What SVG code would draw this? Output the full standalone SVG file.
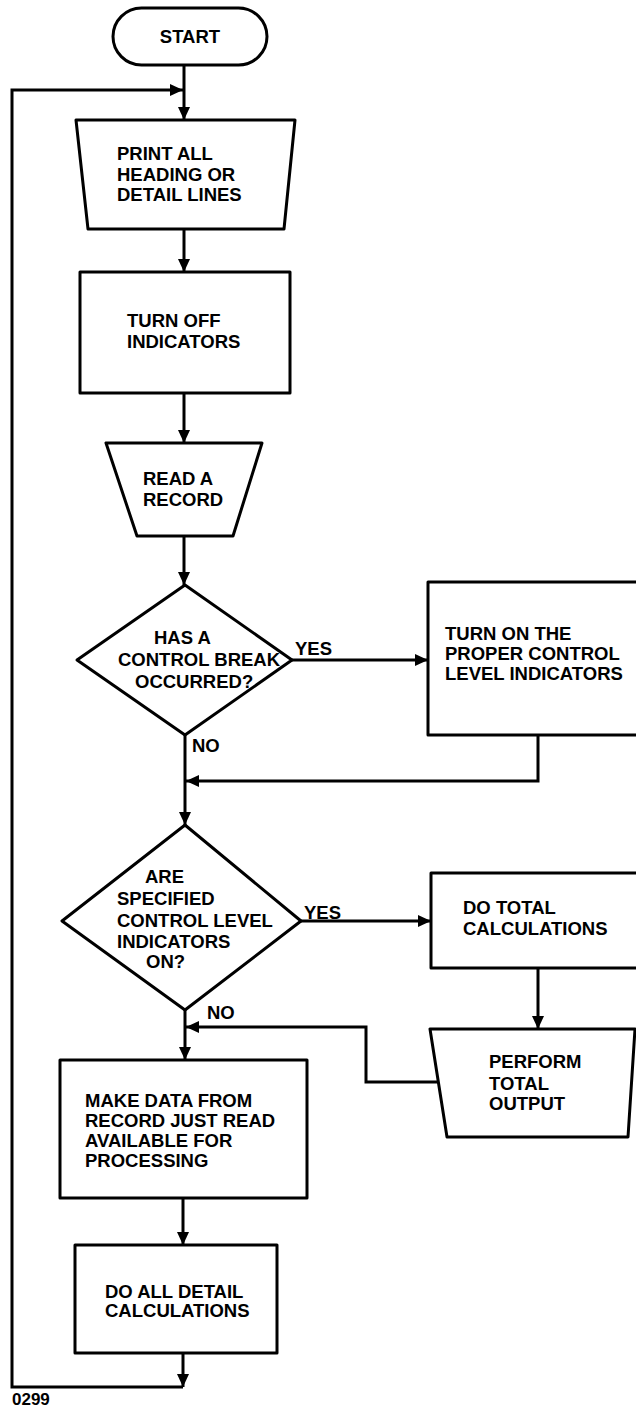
<svg xmlns="http://www.w3.org/2000/svg" width="636" height="1410" viewBox="0 0 636 1410">
<style>
.s{fill:#fff;stroke:#000;stroke-width:3;stroke-linejoin:round}
.c{fill:none;stroke:#000;stroke-width:3}
.t{font-family:"Liberation Sans",Arial,sans-serif;font-weight:bold;font-size:18.5px;fill:#000}
</style>
<defs>
<marker id="a" markerUnits="userSpaceOnUse" markerWidth="13" markerHeight="12" refX="13" refY="6" orient="auto">
<path d="M0,0 L13,6 L0,12 z" fill="#000"/>
</marker>
</defs>
<rect width="636" height="1410" fill="#fff"/>
<g id="connectors">
<path class="c" d="M184,65 V120" marker-end="url(#a)"/>
<path class="c" d="M183,1387 H12 V90 H183" marker-end="url(#a)"/>
<path class="c" d="M183,1354 V1387" marker-end="url(#a)"/>
<path class="c" d="M184,229 V272" marker-end="url(#a)"/>
<path class="c" d="M184,393 V443" marker-end="url(#a)"/>
<path class="c" d="M184,536 V585" marker-end="url(#a)"/>
<path class="c" d="M292,660 H428" marker-end="url(#a)"/>
<path class="c" d="M538,735 V781 H186" marker-end="url(#a)"/>
<path class="c" d="M185,735 V825" marker-end="url(#a)"/>
<path class="c" d="M301,921 H431" marker-end="url(#a)"/>
<path class="c" d="M538,968 V1029" marker-end="url(#a)"/>
<path class="c" d="M438,1082 H366 V1027 H186" marker-end="url(#a)"/>
<path class="c" d="M185,1010 V1060" marker-end="url(#a)"/>
<path class="c" d="M183,1198 V1245" marker-end="url(#a)"/>
<text class="t" x="295" y="655">YES</text>
<text class="t" x="192" y="752">NO</text>
<text class="t" x="304" y="919">YES</text>
<text class="t" x="207" y="1019">NO</text>
</g>
<g id="start">
<rect class="s" x="113" y="8" width="154" height="57" rx="28.5"/>
<text class="t" x="190" y="43" text-anchor="middle">START</text>
</g>
<g id="print">
<path class="s" d="M76,120 H295 L284,229 H88 Z"/>
<text class="t" x="117" y="160">PRINT ALL</text>
<text class="t" x="117" y="181">HEADING OR</text>
<text class="t" x="117" y="201">DETAIL LINES</text>
</g>
<g id="turnoff">
<rect class="s" x="80" y="272" width="210" height="121"/>
<text class="t" x="127" y="327">TURN OFF</text>
<text class="t" x="127" y="348">INDICATORS</text>
</g>
<g id="read">
<path class="s" d="M106,443 H262 L233,536 H137 Z"/>
<text class="t" x="143" y="485">READ A</text>
<text class="t" x="143" y="506">RECORD</text>
</g>
<g id="decision1">
<path class="s" d="M185,585 L292,660 L185,735 L77,660 Z"/>
<text class="t" x="154" y="644">HAS A</text>
<text class="t" x="118" y="666">CONTROL BREAK</text>
<text class="t" x="135" y="688">OCCURRED?</text>
</g>
<g id="turnon">
<rect class="s" x="428" y="582" width="212" height="153"/>
<text class="t" x="445" y="640">TURN ON THE</text>
<text class="t" x="445" y="660">PROPER CONTROL</text>
<text class="t" x="445" y="680">LEVEL INDICATORS</text>
</g>
<g id="decision2">
<path class="s" d="M185,825 L301,921 L185,1010 L62,921 Z"/>
<text class="t" x="145" y="883">ARE</text>
<text class="t" x="117" y="905">SPECIFIED</text>
<text class="t" x="117" y="927">CONTROL LEVEL</text>
<text class="t" x="117" y="948">INDICATORS</text>
<text class="t" x="146" y="968">ON?</text>
</g>
<g id="dototal">
<rect class="s" x="431" y="873" width="209" height="95"/>
<text class="t" x="463" y="914">DO TOTAL</text>
<text class="t" x="463" y="935">CALCULATIONS</text>
</g>
<g id="perform">
<path class="s" d="M430,1029 H635 L628,1137 H447 Z"/>
<text class="t" x="489" y="1068">PERFORM</text>
<text class="t" x="489" y="1090">TOTAL</text>
<text class="t" x="489" y="1110">OUTPUT</text>
</g>
<g id="makedata">
<rect class="s" x="60" y="1060" width="247" height="138"/>
<text class="t" x="85" y="1107">MAKE DATA FROM</text>
<text class="t" x="85" y="1127">RECORD JUST READ</text>
<text class="t" x="85" y="1147">AVAILABLE FOR</text>
<text class="t" x="85" y="1167">PROCESSING</text>
</g>
<g id="detail">
<rect class="s" x="75" y="1245" width="202" height="108"/>
<text class="t" x="105" y="1298">DO ALL DETAIL</text>
<text class="t" x="105" y="1317">CALCULATIONS</text>
</g>
<text class="t" x="12" y="1405" style="font-size:17px">0299</text>
</svg>
